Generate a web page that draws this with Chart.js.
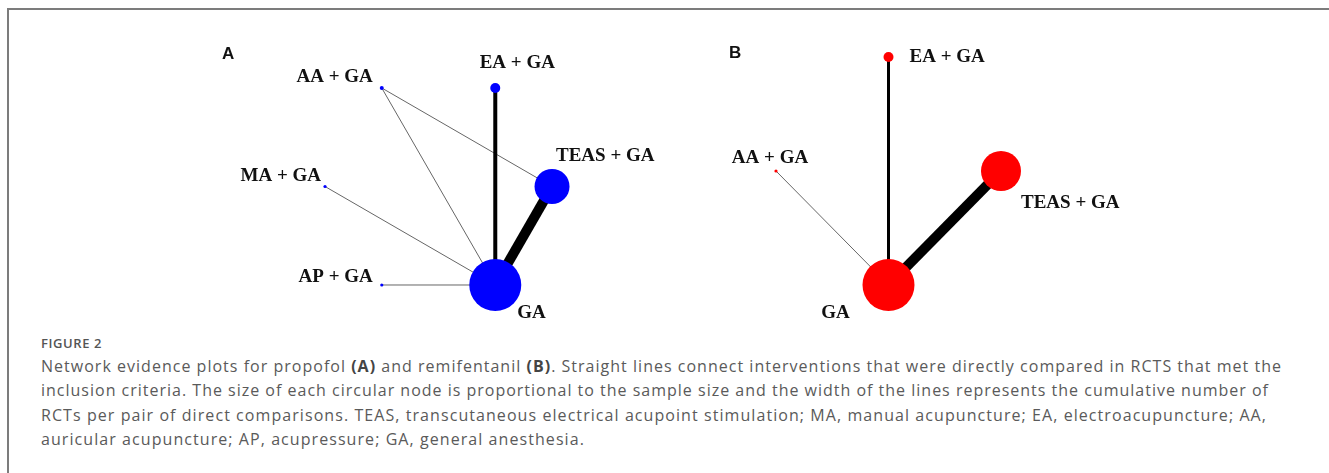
<!DOCTYPE html>
<html>
<head>
<meta charset="utf-8">
<script src="https://cdn.jsdelivr.net/npm/chart.js@4"></script>
<style>
  html,body{margin:0;padding:0;background:#fff;width:1329px;height:473px;overflow:hidden;position:relative;}
  #frame{position:absolute;left:7px;top:8px;width:1330px;height:470px;border-top:2px solid #7c7c7c;border-left:2px solid #7c7c7c;box-sizing:border-box;}
  canvas{position:absolute;top:0;}
  .plab{position:absolute;font-family:"Liberation Sans",Arial,sans-serif;font-weight:bold;font-size:17px;color:#111;line-height:1;}
  .cap{position:absolute;left:41px;white-space:nowrap;font-family:"Open Sans",sans-serif;color:#5a5a5a;line-height:1;}
  .cap b{font-weight:700;color:#444;}
</style>
</head>
<body>
<div id="frame"></div>
<canvas id="cA" width="664" height="330" style="left:0px"></canvas>
<canvas id="cB" width="665" height="330" style="left:664px"></canvas>
<div class="plab" style="left:222px;top:45px">A</div>
<div class="plab" style="left:729px;top:44px">B</div>
<div class="cap" id="fig" style="top:337px;font-size:13px;font-weight:600;color:#555">FIGURE 2</div>
<div class="cap" id="l1" style="top:358px;font-size:16px">Network evidence plots for propofol <b>(A)</b> and remifentanil <b>(B)</b>. Straight lines connect interventions that were directly compared in RCTS that met the</div>
<div class="cap" id="l2" style="top:382px;font-size:16px">inclusion criteria. The size of each circular node is proportional to the sample size and the width of the lines represents the cumulative number of</div>
<div class="cap" id="l3" style="top:407px;font-size:16px">RCTs per pair of direct comparisons. TEAS, transcutaneous electrical acupoint stimulation; MA, manual acupuncture; EA, electroacupuncture; AA,</div>
<div class="cap" id="l4" style="top:431px;font-size:16px">auricular acupuncture; AP, acupressure; GA, general anesthesia.</div>
<script>
// ---------- Panel A (propofol) ----------
const nodesA   = ['GA', 'TEAS + GA', 'EA + GA', 'AA + GA', 'MA + GA', 'AP + GA'];
const nodeXA   = [3, 4, 3, 1, 0, 1];
const nodeYA   = [0, 1, 2, 2, 1, 0];
const nodeSizeA = [26, 17.5, 5, 2, 1.6, 1.6];
const edgeFromA = ['GA', 'GA', 'GA', 'GA', 'GA', 'AA + GA'];
const edgeToA   = ['TEAS + GA', 'EA + GA', 'AA + GA', 'MA + GA', 'AP + GA', 'TEAS + GA'];
const edgeRctA  = [10, 4, 1, 1, 1, 1];

// ---------- Panel B (remifentanil) ----------
const nodesB   = ['GA', 'TEAS + GA', 'EA + GA', 'AA + GA'];
const nodeXB   = [1, 2, 1, 0];
const nodeYB   = [0, 1, 2, 1];
const nodeSizeB = [26, 20, 5, 1.6];
const edgeFromB = ['GA', 'GA', 'GA'];
const edgeToB   = ['TEAS + GA', 'EA + GA', 'AA + GA'];
const edgeRctB  = [10, 3, 1];

const labelStyleA = {
  'GA':        {dx: 22,  dy: 28,  align: 'left'},
  'TEAS + GA': {dx: 4,   dy: -30, align: 'left'},
  'EA + GA':   {dx: 22,  dy: -25, align: 'center'},
  'AA + GA':   {dx: -9,  dy: -11, align: 'right'},
  'MA + GA':   {dx: -4,  dy: -10, align: 'right'},
  'AP + GA':   {dx: -9,  dy: -8,  align: 'right'}
};
const labelStyleB = {
  'GA':        {dx: -53, dy: 28,  align: 'center'},
  'TEAS + GA': {dx: 20,  dy: 32,  align: 'left'},
  'EA + GA':   {dx: 21,  dy: 0,   align: 'left'},
  'AA + GA':   {dx: -6,  dy: -13, align: 'center'}
};

function edgeColor(w){ return w <= 1 ? '#666666' : '#000000'; }

const nodeLabels = {
  id: 'nodeLabels',
  afterDatasetsDraw(chart, args, opts) {
    const ctx = chart.ctx;
    const meta = chart.getDatasetMeta(opts.nodeIndex);
    ctx.save();
    ctx.font = 'bold 19px "Liberation Serif", "Times New Roman", serif';
    ctx.fillStyle = '#111';
    ctx.textBaseline = 'middle';
    meta.data.forEach((el, i) => {
      const name = opts.names[i];
      const st = opts.style[name];
      ctx.textAlign = st.align;
      ctx.fillText(name, el.x + st.dx, el.y + st.dy);
    });
    ctx.restore();
  }
};

function buildChart(canvasId, names, xs, ys, sizes, from, to, rct, color, styles, range) {
  const idx = n => names.indexOf(n);
  const datasets = [];
  datasets.push({
    type: 'bubble',
    order: 0,
    data: names.map((n, i) => ({x: xs[i], y: ys[i], r: sizes[i]})),
    backgroundColor: color,
    borderWidth: 0,
    hoverRadius: 0,
    clip: false
  });
  for (let e = 0; e < from.length; e++) {
    const a = idx(from[e]), b = idx(to[e]);
    datasets.push({
      type: 'line',
      order: 1,
      data: [{x: xs[a], y: ys[a]}, {x: xs[b], y: ys[b]}],
      borderColor: edgeColor(rct[e]),
      borderWidth: rct[e],
      borderCapStyle: 'butt',
      pointRadius: 0,
      fill: false,
      tension: 0,
      clip: false
    });
  }
  return new Chart(document.getElementById(canvasId), {
    type: 'bubble',
    data: {datasets},
    options: {
      responsive: false,
      animation: false,
      devicePixelRatio: 1,
      layout: {padding: 0, autoPadding: false},
      events: [],
      plugins: {
        legend: {display: false},
        tooltip: {enabled: false},
        nodeLabels: {nodeIndex: 0, names, style: styles}
      },
      scales: {
        x: {type: 'linear', display: false, min: range.xmin, max: range.xmax},
        y: {type: 'linear', display: false, min: range.ymin, max: range.ymax}
      }
    },
    plugins: [nodeLabels]
  });
}

buildChart('cA', nodesA, nodeXA, nodeYA, nodeSizeA, edgeFromA, edgeToA, edgeRctA, '#0000ff', labelStyleA,
  {xmin: -5.727, xmax: 5.973, ymin: -0.4569, ymax: 2.8934});
buildChart('cB', nodesB, nodeXB, nodeYB, nodeSizeB, edgeFromB, edgeToB, edgeRctB, '#ff0000', labelStyleB,
  {xmin: -0.9956, xmax: 4.9156, ymin: -0.3947, ymax: 2.5});

// fit caption lines to the reference widths
function fit(id, target) {
  const el = document.getElementById(id);
  const text = el.textContent;
  const w = el.getBoundingClientRect().width;
  const ls = (target - w) / text.length;
  el.style.letterSpacing = ls + 'px';
  return ls;
}
fit('fig', 61);
fit('l1', 1241);
fit('l2', 1228);
const ls3 = fit('l3', 1226);
document.getElementById('l4').style.letterSpacing = ls3 + 'px';
</script>
</body>
</html>
